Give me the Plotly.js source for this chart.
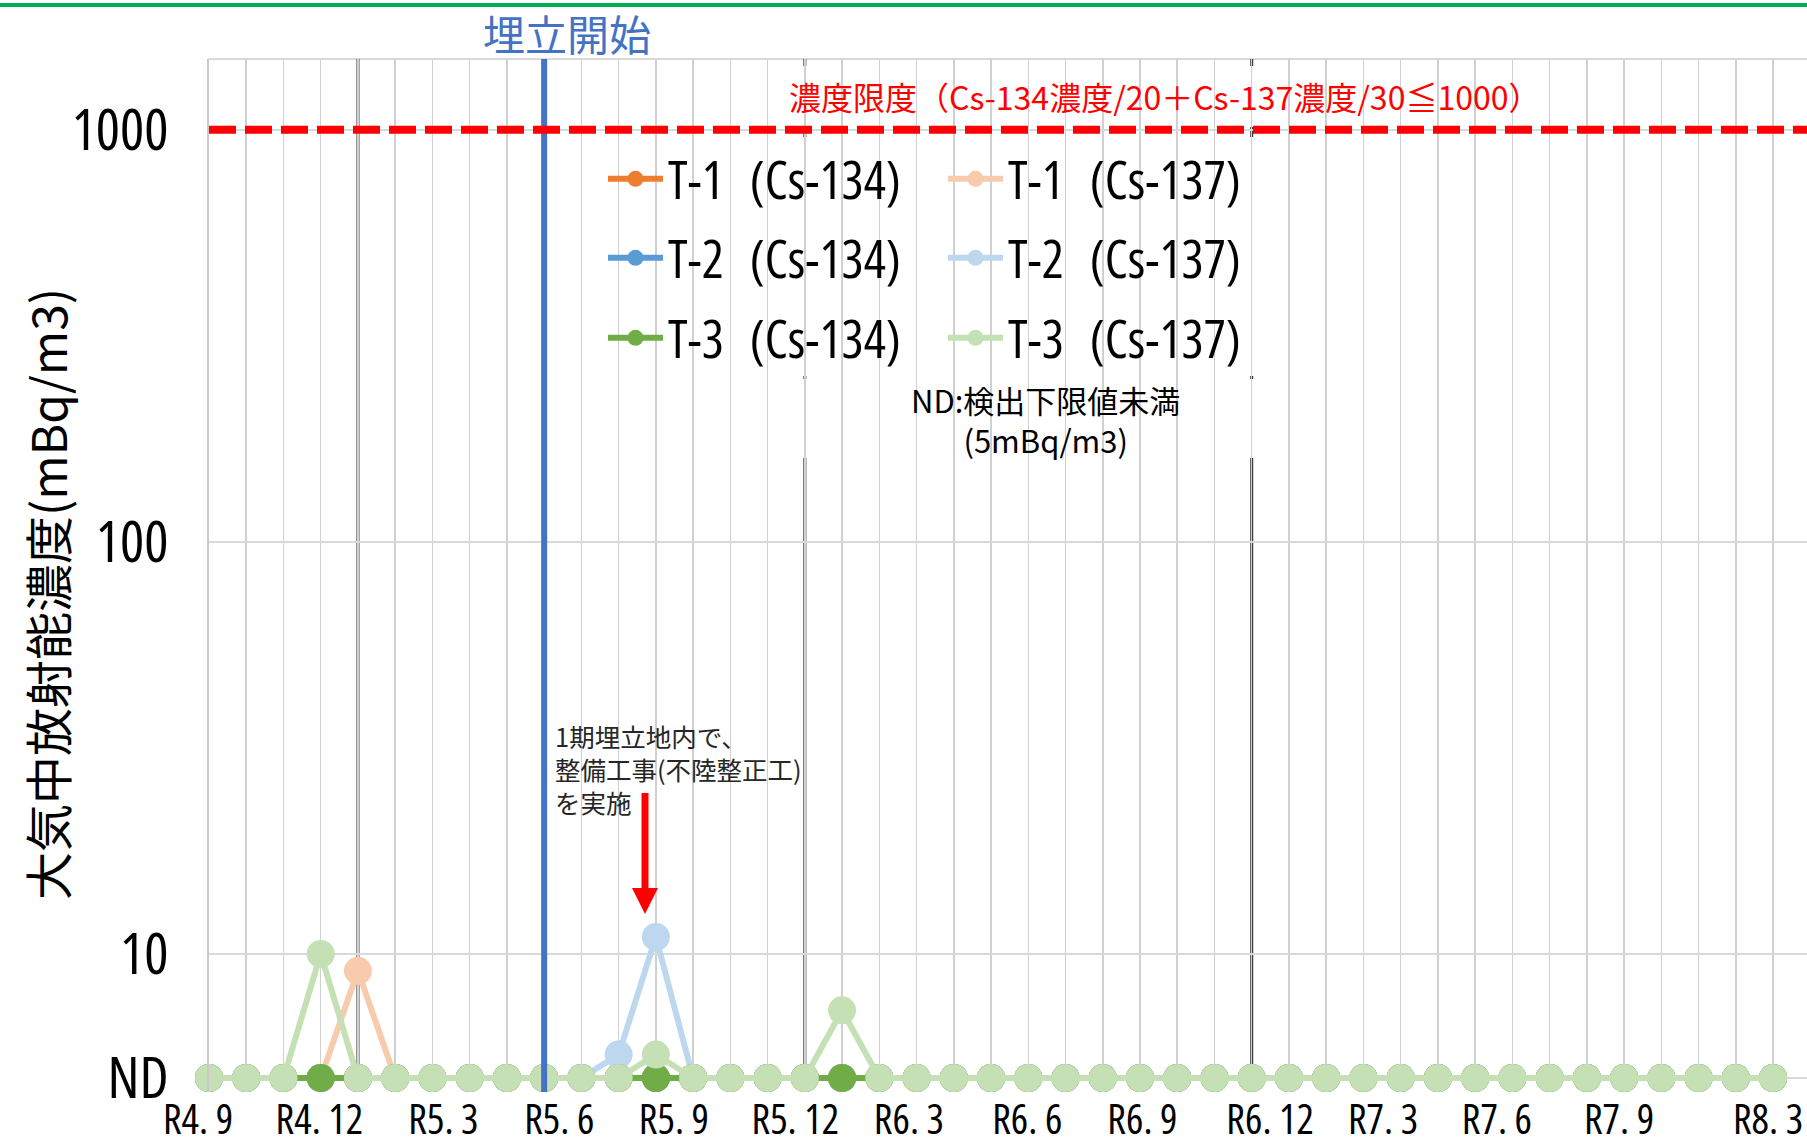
<!DOCTYPE html>
<html><head><meta charset="utf-8">
<script src="https://cdn.plot.ly/plotly-3.0.1.min.js"></script>
<style>
html,body{margin:0;padding:0;background:#fff;} #chart{width:1807px;height:1140px;}
svg text { font-stretch: 75% !important; }
</style>
</head><body><div id="chart"></div>
<script>
// ---- data ----
const months = ["R4.9","R4.10","R4.11","R4.12","R5.1","R5.2","R5.3","R5.4","R5.5","R5.6","R5.7","R5.8","R5.9","R5.10","R5.11","R5.12",
  "R6.1","R6.2","R6.3","R6.4","R6.5","R6.6","R6.7","R6.8","R6.9","R6.10","R6.11","R6.12",
  "R7.1","R7.2","R7.3","R7.4","R7.5","R7.6","R7.7","R7.8","R7.9","R7.10","R7.11","R7.12","R8.1","R8.2","R8.3"];
// ND (below detection limit) plotted at 5 mBq/m3
const t1_cs134 = [5,5,5,5,5,5,5,5,5,5,5,5,5,5,5,5,5,5,5,5,5,5,5,5,5,5,5,5,5,5,5,5,5,5,5,5,5,5,5,5,5,5,5];
const t1_cs137 = [5,5,5,5,9.1,5,5,5,5,5,5,5,5,5,5,5,5,5,5,5,5,5,5,5,5,5,5,5,5,5,5,5,5,5,5,5,5,5,5,5,5,5,5];
const t2_cs134 = [5,5,5,5,5,5,5,5,5,5,5,5,5,5,5,5,5,5,5,5,5,5,5,5,5,5,5,5,5,5,5,5,5,5,5,5,5,5,5,5,5,5,5];
const t2_cs137 = [5,5,5,5,5,5,5,5,5,5,5,5.7,11.0,5,5,5,5,5,5,5,5,5,5,5,5,5,5,5,5,5,5,5,5,5,5,5,5,5,5,5,5,5,5];
const t3_cs134 = [5,5,5,5,5,5,5,5,5,5,5,5,5,5,5,5,5,5,5,5,5,5,5,5,5,5,5,5,5,5,5,5,5,5,5,5,5,5,5,5,5,5,5];
const t3_cs137 = [5,5,5,10,5,5,5,5,5,5,5,5,5.7,5,5,5,5,7.3,5,5,5,5,5,5,5,5,5,5,5,5,5,5,5,5,5,5,5,5,5,5,5,5,5];
const seriesNames = ["T-1\u2002(Cs-134)","T-1\u2002(Cs-137)","T-2\u2002(Cs-134)","T-2\u2002(Cs-137)","T-3\u2002(Cs-134)","T-3\u2002(Cs-137)"];
const tickLabels = ["R4. 9","R4. 12","R5. 3","R5. 6","R5. 9","R5. 12","R6. 3","R6. 6","R6. 9","R6. 12","R7. 3","R7. 6","R7. 9","R8. 3"];
const yTickVals = [5,10,100,1000];
const yTickText = ["ND","10","100","1000"];
const limitValue = 1000;
const yearLineMonths = ["R5.1","R6.1","R7.1"];
const startMonth = "R5.6";

// ---- layout constants ----
const W = 1807, H = 1140;
const M = {l:209, r:0, t:59, b:48};
const PW = W - M.l - M.r, PH = H - M.t - M.b;
const px = xr => (xr - M.l) / PW;
const py = yr => (H - M.b - yr) / PH;
// tick label positions (label row is placed slightly off the monthly grid in the original)
const tickPos = [0,3.26,6.59,9.70,12.78,16.04,19.09,22.27,25.36,28.79,31.82,34.88,38.16,42.16];

const colors = ["#ed7d31","#f8cbad","#5b9bd5","#bdd7ee","#70ad47","#c5e0b4"];
const values = [t1_cs134,t1_cs137,t2_cs134,t2_cs137,t3_cs134,t3_cs137];
const legendIds = ["legend","legend","legend2","legend2","legend3","legend3"];
const xIdx = months.map((m,i)=>i);

const JP = '"Noto Sans CJK JP", "Noto Sans", sans-serif';
const NARROW = '"Open Sans", "Noto Sans", sans-serif';

const traces = values.map((v,k)=>({
  type:'scatter', mode:'lines+markers', x:xIdx, y:v, name:seriesNames[k],
  legend: legendIds[k], cliponaxis:false, hoverinfo:'skip',
  line:{color:colors[k], width:6},
  marker:{color:colors[k], size:28}
}));

const shapes = [];
// top green rule
shapes.push({type:'line', xref:'paper', yref:'paper', x0:px(0), x1:px(W), y0:py(5), y1:py(5), line:{color:'#00b050', width:4}, layer:'above'});
// top border
shapes.push({type:'line', xref:'paper', yref:'paper', x0:0, x1:1, y0:1, y1:1, line:{color:'#d9d9d9', width:2}, layer:'between'});
// year separator lines
yearLineMonths.forEach(m=>{
  const i = months.indexOf(m);
  shapes.push({type:'line', xref:'x', yref:'paper', x0:i, x1:i, y0:0, y1:1, line:{color:'#3a3a3a', width:3}, layer:'between'});
});
// white boxes behind legend / notes
[[790,66,1612,127],[586,137,1262,376],[586,379,1262,458]].forEach(b=>{
  shapes.push({type:'rect', xref:'paper', yref:'paper', x0:px(b[0]), x1:px(b[2]), y0:py(b[3]), y1:py(b[1]), fillcolor:'#ffffff', line:{width:0}, layer:'between'});
});
// landfill start line
const si = months.indexOf(startMonth);
shapes.push({type:'line', xref:'x', yref:'paper', x0:si, x1:si, y0:0, y1:1, line:{color:'#4472c4', width:6}, layer:'above'});
// concentration limit
shapes.push({type:'line', xref:'paper', yref:'y', x0:0, x1:1, y0:limitValue, y1:limitValue, line:{color:'#ff0000', width:8, dash:'27px,9px'}, layer:'above'});
// red arrow pointing at the R5.9 T-2 value
shapes.push({type:'line', xref:'paper', yref:'paper', x0:px(645), x1:px(645), y0:py(793), y1:py(892), line:{color:'#ff0000', width:7}, layer:'above'});
shapes.push({type:'path', xref:'paper', yref:'paper',
  path:`M ${px(632)} ${py(888)} L ${px(658)} ${py(888)} L ${px(645)} ${py(914)} Z`, fillcolor:'#ff0000', line:{width:0}, layer:'above'});

const annotations = [
  {text:'埋立開始', xref:'x', x:si, xshift:23, yref:'paper', y:1, yshift:27, yanchor:'middle', xanchor:'center', showarrow:false,
   font:{family:JP, size:42, color:'#4472c4'}},
  {text:'濃度限度（Cs-134濃度/20＋Cs-137濃度/30≦1000）', xref:'paper', x:px(1164), yref:'paper', y:py(96), xanchor:'center', yanchor:'middle', showarrow:false,
   font:{family:JP, size:32, color:'#ff0000'}},
  {text:'ND:検出下限値未満<br>(5mBq/m3)', xref:'paper', x:px(1045), yref:'paper', y:py(420), xanchor:'center', yanchor:'middle', showarrow:false, align:'center',
   font:{family:JP, size:31, color:'#000000'}},
  {text:'1期埋立地内で、<br>整備工事(不陸整正工)<br>を実施', xref:'paper', x:px(553), yref:'paper', y:py(768), xanchor:'left', yanchor:'middle', showarrow:false, align:'left',
   font:{family:JP, size:25.5, color:'#262626'}},
  {text:'大気中放射能濃度(mBq/m3)', xref:'paper', x:px(46), yref:'paper', y:py(594), textangle:-90, xanchor:'center', yanchor:'middle', showarrow:false,
   font:{family:JP, size:48, color:'#000000'}}
];

const legendBase = {orientation:'h', xanchor:'left', yanchor:'middle', bgcolor:'rgba(0,0,0,0)', borderwidth:0,
  font:{family:NARROW, size:52, color:'#000'}, entrywidth:270, entrywidthmode:'pixels', itemwidth:55, itemclick:false, itemdoubleclick:false};

const layout = {
  width:W, height:H, margin:M, paper_bgcolor:'#fff', plot_bgcolor:'#fff', showlegend:true, hovermode:false,
  xaxis:{range:[0,(W-M.l-M.r)/37.24], tickmode:'array', tickvals:tickPos, ticktext:tickLabels, showgrid:false, zeroline:false,
    ticks:'', ticklabelshift:-11, ticklabelstandoff:0, tickangle:0, ticklabeloverflow:'allow',
    tickfont:{family:NARROW, size:41, color:'#000'},
    minor:{tickmode:'linear', tick0:0, dtick:1, showgrid:true, gridcolor:'#d0d0d0', gridwidth:1.5, ticks:''}},
  yaxis:{type:'log', range:[0.665,3.172], tickmode:'array', tickvals:yTickVals, ticktext:yTickText, showgrid:true, gridcolor:'#d9d9d9', gridwidth:2,
    zeroline:false, showline:true, linecolor:'#c8c8c8', linewidth:2, ticks:'', ticklabelstandoff:27,
    tickfont:{family:NARROW, size:57, color:'#000'}},
  legend: Object.assign({}, legendBase, {x:px(603), y:py(179)}),
  legend2: Object.assign({}, legendBase, {x:px(603), y:py(258)}),
  legend3: Object.assign({}, legendBase, {x:px(603), y:py(338)}),
  shapes:shapes, annotations:annotations
};

Plotly.newPlot('chart', traces, layout, {staticPlot:true, displayModeBar:false});
</script>
</body></html>
